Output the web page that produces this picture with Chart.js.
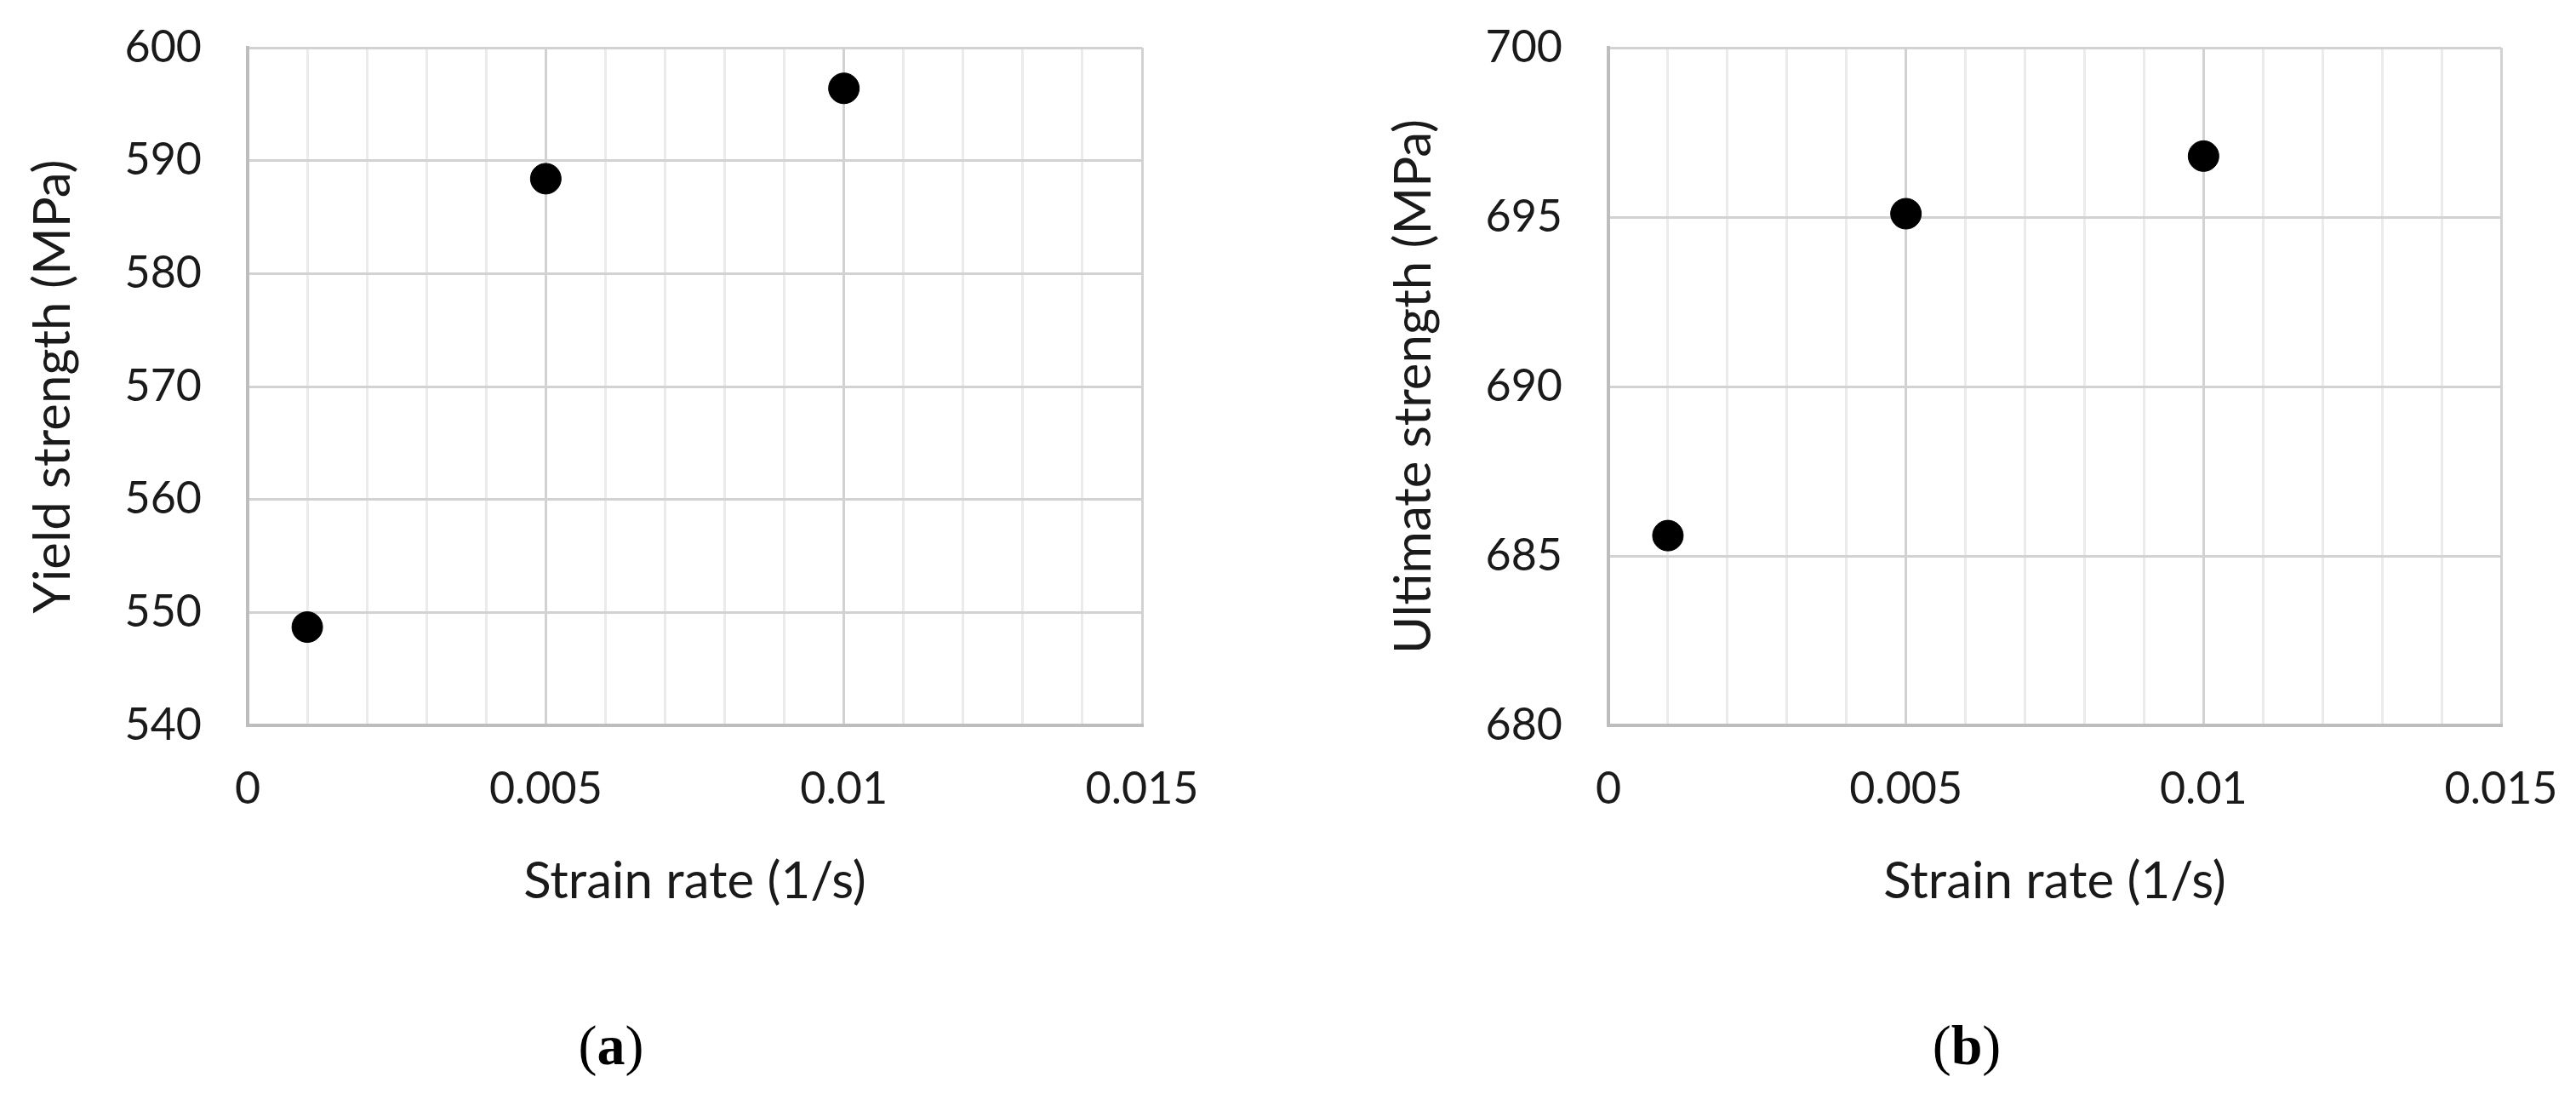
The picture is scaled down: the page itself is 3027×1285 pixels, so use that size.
<!DOCTYPE html>
<html lang="en">
<head>
    <meta charset="UTF-8">
    <title>Yield and ultimate strength vs strain rate</title>
    <script src="https://cdn.jsdelivr.net/npm/chart.js"></script>
    <style>
        body {
            margin: 0;
            background-color: #fff;
            width: 3027px;
            height: 1285px;
            position: relative;
            overflow: hidden;
        }
        canvas {
            position: absolute;
            top: 0;
        }
        #chartA { left: 0; }
        #chartB { left: 1599px; }
        .caption {
            position: absolute;
            top: 1190px;
            width: 200px;
            text-align: center;
            font-family: "Liberation Serif", "Times New Roman", serif;
            font-size: 66px;
            color: #000;
        }
        .caption b { font-weight: bold; }
    </style>
</head>
<body>
    <canvas id="chartA" width="1440" height="1072"></canvas>
    <canvas id="chartB" width="1428" height="1072"></canvas>
    <div class="caption" style="left: 618px;">(<b>a</b>)</div>
    <div class="caption" style="left: 2211px;">(<b>b</b>)</div>

    <script>
        // Strain rate values (1/s), shared by both panels
        const strainRate = [0.001, 0.005, 0.01];

        // Panel (a): yield strength (MPa)
        const yieldStrength = [548.7, 588.4, 596.4];
        // Panel (b): ultimate strength (MPa)
        const ultimateStrength = [685.6, 695.1, 696.8];

        // Tick labels
        const xTickValues = [0, 0.005, 0.01, 0.015];
        const xTickLabels = ['0', '0.005', '0.01', '0.015'];
        const yTickLabelsA = ['540', '550', '560', '570', '580', '590', '600'];
        const yTickLabelsB = ['680', '685', '690', '695', '700'];

        Chart.defaults.font.family = 'Lato, "Open Sans", sans-serif';
        Chart.defaults.color = '#1a1a1a';

        function isMajorX(v) {
            return xTickValues.some(t => Math.abs(t - v) < 1e-9);
        }

        // drop the extra room Chart.js reserves for overhanging tick labels
        function noOverhang(scale) {
            scale.paddingLeft = 0;
            scale.paddingRight = 0;
            scale.paddingTop = 0;
            scale.paddingBottom = 0;
        }

        function makeChart(id, values, yLabels, yTitle, rightPad) {
            const yMin = Number(yLabels[0]);
            const yMax = Number(yLabels[yLabels.length - 1]);
            const yStep = Number(yLabels[1]) - yMin;
            const ctx = document.getElementById(id).getContext('2d');
            return new Chart(ctx, {
                type: 'scatter',
                data: {
                    datasets: [{
                        data: strainRate.map((x, i) => ({ x: x, y: values[i] })),
                        backgroundColor: '#000',
                        borderColor: '#000',
                        pointRadius: 18,
                        pointHoverRadius: 18
                    }]
                },
                options: {
                    responsive: false,
                    animation: false,
                    layout: {
                        padding: { left: 27, top: 56, right: rightPad, bottom: 0 }
                    },
                    plugins: {
                        legend: { display: false },
                        tooltip: { enabled: false }
                    },
                    scales: {
                        x: {
                            type: 'linear',
                            min: 0,
                            max: 0.015,
                            afterFit: scale => {
                                scale.height = 1072 - 852;
                                noOverhang(scale);
                            },
                            ticks: {
                                stepSize: 0.001,
                                maxTicksLimit: 20,
                                autoSkip: false,
                                maxRotation: 0,
                                padding: 44,
                                font: { size: 52 },
                                callback: value => {
                                    const i = xTickValues.findIndex(t => Math.abs(t - value) < 1e-9);
                                    return i >= 0 ? xTickLabels[i] : '';
                                }
                            },
                            grid: {
                                drawTicks: false,
                                lineWidth: 3,
                                color: c => isMajorX(c.tick.value) ? '#d2d2d2' : '#ebebeb'
                            },
                            border: { color: '#bdbdbd', width: 4 },
                            title: {
                                display: true,
                                text: 'Strain rate (1/s)',
                                font: { size: 60 },
                                padding: { top: 0, bottom: 0 }
                            }
                        },
                        y: {
                            min: yMin,
                            max: yMax,
                            afterFit: scale => {
                                scale.width = 291 - 27;
                                noOverhang(scale);
                            },
                            ticks: {
                                stepSize: yStep,
                                padding: 54,
                                font: { size: 52 },
                                callback: value => {
                                    const i = yLabels.findIndex(t => Math.abs(Number(t) - value) < 1e-9);
                                    return i >= 0 ? yLabels[i] : '';
                                }
                            },
                            grid: {
                                drawTicks: false,
                                lineWidth: 3,
                                color: '#d2d2d2'
                            },
                            border: { color: '#bdbdbd', width: 4 },
                            title: {
                                display: true,
                                text: yTitle,
                                font: { size: 60 },
                                padding: { top: 0, bottom: 0 }
                            }
                        }
                    }
                }
            });
        }

        makeChart('chartA', yieldStrength, yTickLabelsA, 'Yield strength (MPa)', 98);
        makeChart('chartB', ultimateStrength, yTickLabelsB, 'Ultimate strength (MPa)', 88);
    </script>
</body>
</html>
